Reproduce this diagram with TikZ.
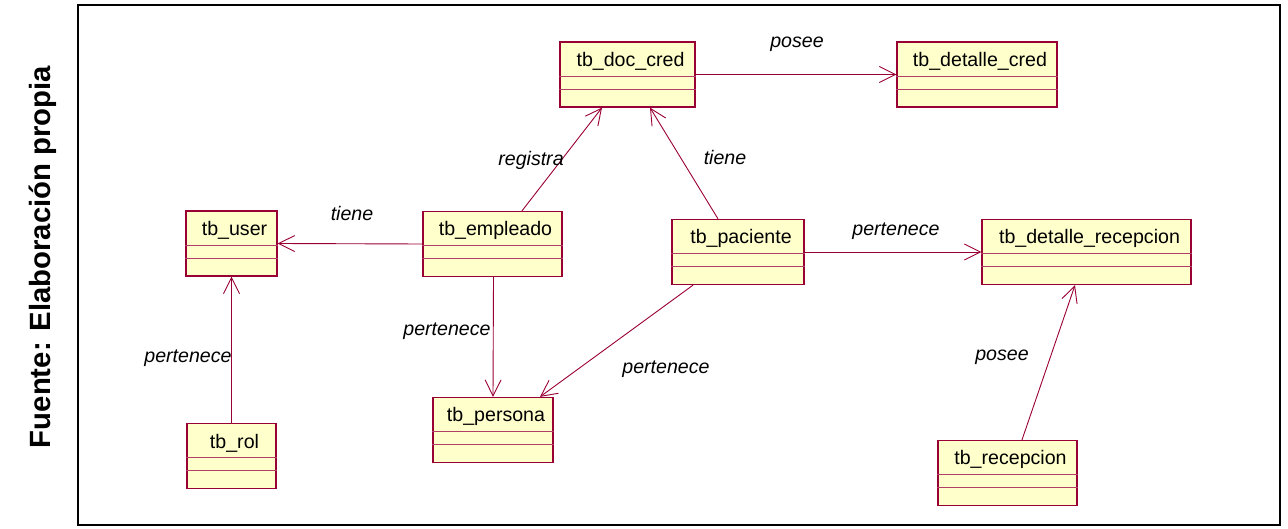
\documentclass[tikz,border=0pt]{standalone}
\usepackage{fontspec}
\setmainfont{Liberation Sans}
\usepackage{tikz}
\usepackage{xcolor}
\usetikzlibrary{arrows.meta}
\definecolor{umlred}{HTML}{990033}
\definecolor{umlfill}{HTML}{FFFFCC}

\begin{document}
\begin{tikzpicture}[x=1pt,y=-1pt,
  cls/.style={draw=umlred,fill=umlfill,line width=1.3pt,minimum height=65pt,inner sep=0pt},
  clsname/.style={font=\fontsize{19.6}{22}\selectfont},
  clsline/.style={draw=umlred!75,line width=1pt},
  assoc/.style={draw=umlred,line width=0.9pt,-{Straight Barb[length=16pt,width=16pt,line width=0.9pt]}},
  rel/.style={font=\fontsize{19.6}{22}\selectfont\itshape}]
  \useasboundingbox (0,0) rectangle (1288,529);
  \draw[line width=1.8pt] (78,5) rectangle (1280,525);
  \node[rotate=90,font=\fontsize{29.3}{32}\selectfont\bfseries] (src) at (43,257) {Fuente: Elaboración propia};
  % clases
  \foreach \n/\x/\y/\w/\t in {doc/627.5/74.5/135/tb\_doc\_cred,
      dcred/977/74.5/160/tb\_detalle\_cred,
      user/231.5/243.5/91/tb\_user,
      emp/492.5/244/139/tb\_empleado,
      pac/738/252/132/tb\_paciente,
      drec/1086.5/252/209/tb\_detalle\_recepcion,
      persona/493/430/120/tb\_persona,
      rol/231.5/456/89/tb\_rol,
      recep/1007.5/473/139/tb\_recepcion} {
    \node[cls,minimum width=\w pt] (\n) at (\x,\y) {};
    \node[clsname] (\n-name) at ([xshift=3pt,yshift=-20pt]\n.north) {\t};
    \draw[clsline] ([yshift=-35pt]\n.north west) -- ([yshift=-35pt]\n.north east);
    \draw[clsline] ([yshift=-48pt]\n.north west) -- ([yshift=-48pt]\n.north east);
  }
  % relaciones
  \draw[assoc] (doc.east) -- (dcred.west);
  \draw[assoc] ([xshift=29.5pt]emp.north) -- ([xshift=-25.5pt]doc.south);
  \draw[assoc] ([xshift=-20pt]pac.north) -- ([xshift=22.5pt]doc.south);
  \draw[assoc] (emp.west) -- (user.east);
  \draw[assoc] (pac.east) -- (drec.west);
  \draw[assoc] ([xshift=1pt]emp.south) -- (persona.north);
  \draw[assoc] ([xshift=-45pt]pac.south) -- ([xshift=47pt]persona.north);
  \draw[assoc] (rol.north) -- (user.south);
  \draw[assoc] ([xshift=14.5pt]recep.north) -- ([xshift=-11.5pt]drec.south);
  \node[rel] (l1) at (797,44) {posee};
  \node[rel] (l2) at (531,160) {registra};
  \node[rel] (l3) at (725,157) {tiene};
  \node[rel] (l4) at (352,213) {tiene};
  \node[rel] (l5) at (896,231) {pertenece};
  \node[rel] (l6) at (447,331) {pertenece};
  \node[rel] (l7) at (666,369) {pertenece};
  \node[rel] (l8) at (188,358) {pertenece};
  \node[rel] (l9) at (1002,357) {posee};
\end{tikzpicture}
\end{document}
